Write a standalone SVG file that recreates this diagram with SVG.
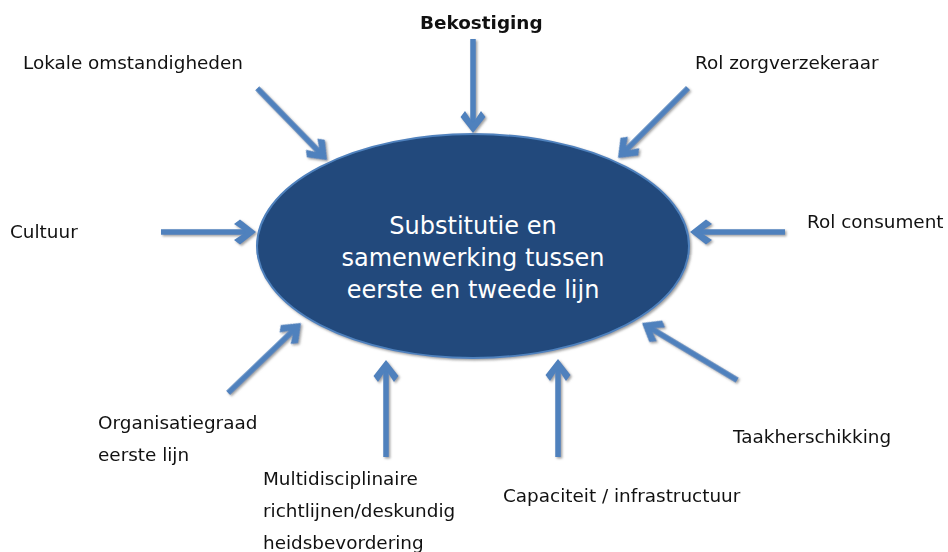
<svg xmlns="http://www.w3.org/2000/svg" xmlns:xlink="http://www.w3.org/1999/xlink" width="948" height="552" viewBox="0 0 948 552">
<style>
.lbl{font-family:"DejaVu Sans","Liberation Sans",sans-serif;font-size:18.4px;fill:#111}
.bold{font-weight:bold}
.ctr{font-family:"DejaVu Sans","Liberation Sans",sans-serif;font-size:24px;fill:#fff;text-anchor:middle}
.arr{fill:#4F81BD}
</style>
<defs>
<filter id="sh" x="-20%" y="-20%" width="140%" height="140%">
<feDropShadow dx="1.5" dy="1.5" stdDeviation="0.8" flood-color="#777" flood-opacity="0.7"/>
</filter>
<path id="head" d="M0,0 L-16,-12.5 L-22,-8 L-10,0 L-22,8 L-16,12.5 Z"/>
</defs>
<rect width="948" height="552" fill="#fff"/>
<g id="centre">
<ellipse cx="473" cy="246" rx="216" ry="112" fill="#214A7C" stroke="#4F81BD" stroke-width="2" filter="url(#sh)"/>
<text class="ctr" x="473" y="234">Substitutie en</text>
<text class="ctr" x="473" y="266">samenwerking tussen</text>
<text class="ctr" x="473" y="298">eerste en tweede lijn</text>
</g>
<g id="connectors" class="arr" filter="url(#sh)">
<g transform="translate(473,133) rotate(90)"><rect x="-94" y="-2.75" width="85" height="5.5"/><use xlink:href="#head"/></g>
<g transform="translate(327,160) rotate(45.8)"><rect x="-100" y="-2.75" width="91" height="5.5"/><use xlink:href="#head"/></g>
<g transform="translate(618,158) rotate(135)"><rect x="-99" y="-2.75" width="90" height="5.5"/><use xlink:href="#head"/></g>
<g transform="translate(256,232)"><rect x="-95" y="-2.75" width="86" height="5.5"/><use xlink:href="#head"/></g>
<g transform="translate(690,232) rotate(180)"><rect x="-95" y="-2.75" width="86" height="5.5"/><use xlink:href="#head"/></g>
<g transform="translate(301,323) rotate(-43.8)"><rect x="-101" y="-2.75" width="92" height="5.5"/><use xlink:href="#head"/></g>
<g transform="translate(386,360) rotate(-90)"><rect x="-97" y="-2.75" width="88" height="5.5"/><use xlink:href="#head"/></g>
<g transform="translate(558,359) rotate(-90)"><rect x="-98" y="-2.75" width="89" height="5.5"/><use xlink:href="#head"/></g>
<g transform="translate(642,323) rotate(211)"><rect x="-111" y="-2.75" width="102" height="5.5"/><use xlink:href="#head"/></g>
</g>
<g id="bekostiging"><text class="lbl bold" x="420" y="29">Bekostiging</text></g>
<g id="lokale"><text class="lbl" x="23" y="69">Lokale omstandigheden</text></g>
<g id="zorgverzekeraar"><text class="lbl" x="695" y="69">Rol zorgverzekeraar</text></g>
<g id="cultuur"><text class="lbl" x="10" y="238">Cultuur</text></g>
<g id="consument"><text class="lbl" x="807" y="228">Rol consument</text></g>
<g id="organisatiegraad"><text class="lbl" x="98" y="429">Organisatiegraad</text><text class="lbl" x="98" y="461">eerste lijn</text></g>
<g id="multidisciplinaire"><text class="lbl" x="263" y="485">Multidisciplinaire</text><text class="lbl" x="263" y="517">richtlijnen/deskundig</text><text class="lbl" x="263" y="549">heidsbevordering</text></g>
<g id="capaciteit"><text class="lbl" x="503" y="502">Capaciteit / infrastructuur</text></g>
<g id="taakherschikking"><text class="lbl" x="733" y="443">Taakherschikking</text></g>
</svg>
